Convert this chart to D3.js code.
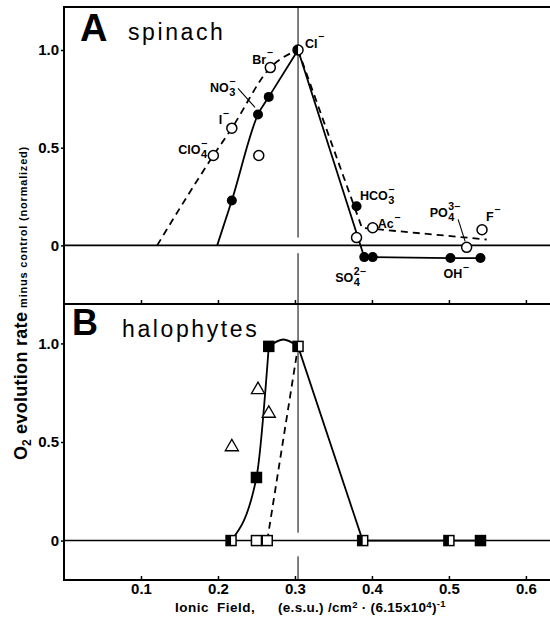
<!DOCTYPE html>
<html><head><meta charset="utf-8">
<script src="https://cdn.jsdelivr.net/npm/d3@7"></script>
<style>
body{margin:0;background:#fff}
svg{display:block;font-family:"Liberation Sans",Arial,Helvetica,sans-serif}
</style></head><body>
<svg id="c" width="550" height="624"></svg>
<script>
// ---------- DATA ----------
const xTicks = [0.1, 0.2, 0.3, 0.4, 0.5, 0.6];
const xTickLabels = ["0.1", "0.2", "0.3", "0.4", "0.5", "0.6"];
const yTicks = [0, 0.5, 1.0];
const yTickLabels = ["0", "0.5", "1.0"];
const clField = 0.304;

// Panel A: spinach
const aOpenX = [0.194, 0.218, 0.268, 0.253, 0.380, 0.401, 0.523, 0.543];
const aOpenY = [0.46, 0.60, 0.91, 0.46, 0.04, 0.09, -0.01, 0.08];
const aOpenIon = ["ClO4", "I", "Br", "", "", "Ac", "PO4", "F"];
const aFilledX = [0.218, 0.252, 0.266, 0.380, 0.390, 0.401, 0.502, 0.541];
const aFilledY = [0.23, 0.67, 0.76, 0.20, -0.06, -0.06, -0.065, -0.065];
const aFilledIon = ["", "NO3", "", "HCO3", "SO4", "", "OH", ""];
const aClX = [0.304], aClY = [1.0];
// hand-fitted curves of panel A
const aDashUpX = [0.121, 0.194, 0.218, 0.268, 0.304];
const aDashUpY = [0, 0.46, 0.60, 0.91, 1.0];
const aDashDownX = [0.304, 0.387, 0.549];
const aDashDownY = [1.0, 0.09, 0.03];
const aSolidUpX = [0.199, 0.218, 0.252, 0.266, 0.304];
const aSolidUpY = [0, 0.23, 0.67, 0.76, 1.0];
const aSolidDownX = [0.304, 0.390, 0.401, 0.502, 0.541];
const aSolidDownY = [1.0, -0.06, -0.06, -0.065, -0.065];

// Panel B: halophytes
const bFilledX = [0.250, 0.266, 0.541];
const bFilledY = [0.32, 0.985, 0];
const bHalfX = [0.217, 0.304, 0.388, 0.500];
const bHalfY = [0, 0.985, 0, 0];
const bOpenX = [0.250, 0.264];
const bOpenY = [0, 0];
const bTriX = [0.218, 0.252, 0.266];
const bTriY = [0.48, 0.77, 0.65];
const bSolidUpX = [0.217, 0.250, 0.266];
const bSolidUpY = [0, 0.32, 0.985];
const bHumpX = [0.266, 0.285, 0.304];
const bHumpY = [0.985, 1.02, 0.985];
const bDashX = [0.264, 0.304];
const bDashY = [0, 0.985];
const bSolidDownX = [0.304, 0.388, 0.500, 0.541];
const bSolidDownY = [0.985, 0, 0, 0];

// ion label chemistry (base, subscript, superscript)
const ionText = {
  ClO4: ["ClO", "4", "−"], I: ["I", "", "−"], Br: ["Br", "", "−"], Cl: ["Cl", "", "−"],
  NO3: ["NO", "3", "−"], HCO3: ["HCO", "3", "−"], Ac: ["Ac", "", "−"],
  PO4: ["PO", "4", "3−"], F: ["F", "", "−"], SO4: ["SO", "4", "2−"], OH: ["OH", "", "−"]
};

// ---------- LAYOUT ----------
const L = 64, R = 549, T = 7, MID = 304, B = 580;
const svg = d3.select("#c");
const x = d3.scaleLinear().domain([0, 0.63]).range([L, R]);
const yA = d3.scaleLinear().domain([-0.30, 1.22]).range([MID, T]);
const yB = d3.scaleLinear().domain([-0.20, 1.20]).range([B, MID]);

const zip = (xs, ys) => xs.map((v, i) => [v, ys[i]]);

// axes
function yAxis(y) {
  const g = svg.append("g").attr("transform", `translate(${L},0)`)
    .call(d3.axisLeft(y).tickValues(yTicks).tickSize(3).tickPadding(2)
      .tickFormat((d, i) => yTickLabels[i]));
  g.select(".domain").remove();
  g.selectAll("line").attr("stroke", "#000").attr("stroke-width", 1.5);
  g.selectAll("text").attr("font-size", 15).attr("font-weight", "bold").attr("fill", "#000");
}
yAxis(yA); yAxis(yB);

function xAxis(yPos, labels) {
  const g = svg.append("g").attr("transform", `translate(0,${yPos})`)
    .call(d3.axisBottom(x).tickValues(xTicks).tickSize(-4).tickPadding(3.5)
      .tickFormat((d, i) => labels ? xTickLabels[i] : ""));
  g.select(".domain").remove();
  g.selectAll("line").attr("stroke", "#000").attr("stroke-width", 1.5);
  g.selectAll("text").attr("font-size", 15).attr("font-weight", "bold").attr("fill", "#000");
}
xAxis(MID, false); xAxis(B, true);

// zero lines
svg.append("line").attr("x1", L).attr("x2", 551).attr("y1", yA(0)).attr("y2", yA(0))
  .attr("stroke", "#000").attr("stroke-width", 1.6);
svg.append("line").attr("x1", L).attr("x2", 551).attr("y1", yB(0)).attr("y2", yB(0))
  .attr("stroke", "#000").attr("stroke-width", 1.4);

// vertical Cl- reference line (with gaps near zero)
[[yA(1.22), yA(0.04)], [yA(-0.04), yA(-0.30)], [yB(1.2), yB(0.04)], [yB(-0.08), yB(-0.2)]]
  .forEach(([a, b]) => svg.append("line").attr("x1", x(clField)).attr("x2", x(clField))
    .attr("y1", a).attr("y2", b).attr("stroke", "#000").attr("stroke-width", 1));

// frame
svg.append("rect").attr("x", L).attr("y", T).attr("width", 560 - L).attr("height", B - T)
  .attr("fill", "none").attr("stroke", "#000").attr("stroke-width", 2);
svg.append("line").attr("x1", L).attr("x2", 551).attr("y1", MID).attr("y2", MID)
  .attr("stroke", "#000").attr("stroke-width", 2);

// curves
function curve(pts, y, c, dash, w) {
  svg.append("path").datum(pts)
    .attr("d", d3.line().x(d => x(d[0])).y(d => y(d[1])).curve(c))
    .attr("fill", "none").attr("stroke", "#000").attr("stroke-width", w || 1.8)
    .attr("stroke-dasharray", dash || null);
}
curve(zip(aDashUpX, aDashUpY), yA, d3.curveMonotoneX, "7,5");
curve(zip(aDashDownX, aDashDownY), yA, d3.curveLinear, "7,5");
curve(zip(aSolidUpX, aSolidUpY), yA, d3.curveMonotoneX);
curve(zip(aSolidDownX, aSolidDownY), yA, d3.curveLinear);
curve(zip(bSolidUpX, bSolidUpY), yB, d3.curveMonotoneX);
curve(zip(bHumpX, bHumpY), yB, d3.curveNatural);
curve(zip(bDashX, bDashY), yB, d3.curveLinear, "7,5");
curve(zip(bSolidDownX, bSolidDownY), yB, d3.curveLinear);

// markers
const r = 5;
svg.append("g").selectAll("circle").data(zip(aOpenX, aOpenY)).join("circle")
  .attr("cx", d => x(d[0])).attr("cy", d => yA(d[1])).attr("r", r)
  .attr("fill", "#fff").attr("stroke", "#000").attr("stroke-width", 1.5);
svg.append("g").selectAll("circle").data(zip(aFilledX, aFilledY)).join("circle")
  .attr("cx", d => x(d[0])).attr("cy", d => yA(d[1])).attr("r", r).attr("fill", "#000");
zip(aClX, aClY).forEach(d => {
  const cx = x(d[0]), cy = yA(d[1]);
  svg.append("circle").attr("cx", cx).attr("cy", cy).attr("r", r)
    .attr("fill", "#fff").attr("stroke", "#000").attr("stroke-width", 1.5);
  svg.append("path").attr("d", `M${cx},${cy - r}A${r},${r} 0 0 0 ${cx},${cy + r}Z`).attr("fill", "#000");
});

const s = 10;
function squares(xs, ys, kind) {
  zip(xs, ys).forEach(d => {
    const cx = x(d[0]), cy = yB(d[1]);
    svg.append("rect").attr("x", cx - s / 2).attr("y", cy - s / 2).attr("width", s).attr("height", s)
      .attr("fill", kind === "filled" ? "#000" : "#fff").attr("stroke", "#000").attr("stroke-width", 1.5);
    if (kind === "half") svg.append("rect").attr("x", cx - s / 2).attr("y", cy - s / 2)
      .attr("width", s / 2).attr("height", s).attr("fill", "#000");
  });
}
squares(bOpenX, bOpenY, "open");
squares(bHalfX, bHalfY, "half");
squares(bFilledX, bFilledY, "filled");
svg.append("g").selectAll("path").data(zip(bTriX, bTriY)).join("path")
  .attr("transform", d => `translate(${x(d[0])},${yB(d[1]) + 1})`)
  .attr("d", d3.symbol(d3.symbolTriangle, 75))
  .attr("fill", "#fff").attr("stroke", "#000").attr("stroke-width", 1.3);

// ion labels (pixel offsets from each marker)
const labelOffset = {
  ClO4: [-35, -1.5], I: [-13, -4], Br: [-18, -4], Cl: [7, -2], NO3: [-48, -22],
  HCO3: [3.5, -6], Ac: [5, 0.5], PO4: [-37, -30], F: [4, -9], SO4: [-29, 25], OH: [-7, 20]
};
function chem(px, py, ion) {
  const [base, sub, sup] = ionText[ion];
  const [dx, dy] = labelOffset[ion];
  const tx = px + dx, ty = py + dy, fs = 12.5;
  const t = svg.append("text").attr("x", tx).attr("y", ty).attr("font-size", fs)
    .attr("font-weight", "bold").text(base);
  const w = t.node().getComputedTextLength();
  if (sub) svg.append("text").attr("x", tx + w + 0.5).attr("y", ty + 3.5).attr("font-size", 11)
    .attr("font-weight", "bold").text(sub);
  if (sup) svg.append("text").attr("x", tx + w + 0.5).attr("y", ty - 7.5).attr("font-size", 10.5)
    .attr("font-weight", "bold").text(sup);
}
aOpenIon.forEach((ion, i) => { if (ion) chem(x(aOpenX[i]), yA(aOpenY[i]), ion); });
aFilledIon.forEach((ion, i) => { if (ion) chem(x(aFilledX[i]), yA(aFilledY[i]), ion); });
chem(x(aClX[0]), yA(aClY[0]), "Cl");

// leader lines
function leader(px, py, a, b) {
  svg.append("line").attr("x1", px + a[0]).attr("y1", py + a[1]).attr("x2", px + b[0]).attr("y2", py + b[1])
    .attr("stroke", "#000").attr("stroke-width", 1.1);
}
leader(x(aFilledX[1]), yA(aFilledY[1]), [-20, -26], [-3, -7]);
leader(x(aOpenX[6]), yA(aOpenY[6]), [-8.5, -28], [-1.5, -6]);

// panel titles
svg.append("text").attr("x", 80).attr("y", 41).attr("font-size", 38).attr("font-weight", "bold").text("A");
svg.append("text").attr("x", 128).attr("y", 40).attr("font-size", 23).attr("letter-spacing", 2.6).text("spinach");
svg.append("text").attr("x", 72).attr("y", 335).attr("font-size", 36).attr("font-weight", "bold").text("B");
svg.append("text").attr("x", 122).attr("y", 337).attr("font-size", 23).attr("letter-spacing", 2.6).text("halophytes");

// y axis title
const yt = svg.append("text").attr("transform", "translate(27,460) rotate(-90)").attr("font-weight", "bold");
yt.append("tspan").attr("font-size", 18).text("O");
yt.append("tspan").attr("font-size", 12).attr("dy", 4).text("2");
yt.append("tspan").attr("font-size", 18).attr("dy", -4).attr("letter-spacing", 0.3).text(" evolution rate");
yt.append("tspan").attr("font-size", 11).attr("letter-spacing", 0.8).text("  minus control (normalized)");

// x axis title
svg.append("text").attr("x", 175).attr("y", 612).attr("font-size", 13.5).attr("font-weight", "bold")
  .attr("letter-spacing", 0.5).text("Ionic");
svg.append("text").attr("x", 217).attr("y", 612).attr("font-size", 13.5).attr("font-weight", "bold")
  .attr("letter-spacing", 0.5).text("Field,");
const xt = svg.append("text").attr("x", 278).attr("y", 612).attr("font-size", 13.5).attr("font-weight", "bold")
  .attr("letter-spacing", 0.3);
xt.append("tspan").text("(e.s.u.) /cm");
xt.append("tspan").attr("font-size", 9.5).attr("dy", -4.5).text("2");
xt.append("tspan").attr("dy", 4.5).text(" · (6.15x10");
xt.append("tspan").attr("font-size", 9.5).attr("dy", -4.5).text("4");
xt.append("tspan").attr("dy", 4.5).text(")");
xt.append("tspan").attr("font-size", 9.5).attr("dy", -5).text("-1");
</script>
</body></html>
